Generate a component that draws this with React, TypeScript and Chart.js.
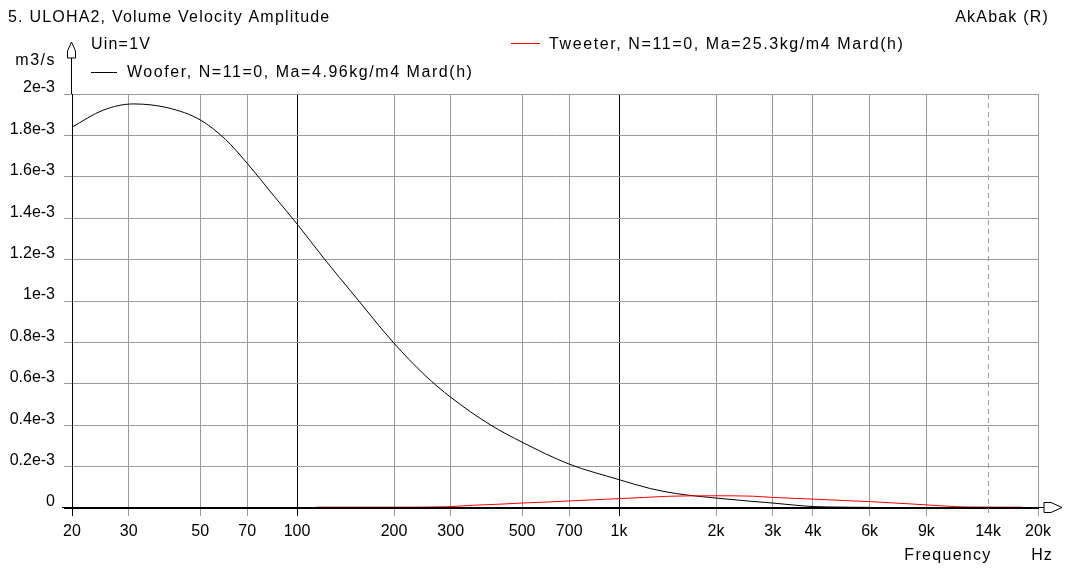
import React, { useEffect, useRef } from "react";
import { Chart, registerables } from "chart.js";

Chart.register(...registerables);

// Frequencies in Hz, volume velocity in units of 1e-3 m3/s
const wooferFreq = [20, 25, 31, 40, 50, 60, 70, 85, 100, 122, 150, 199, 250, 300, 400, 500, 700, 1000, 1250, 1500, 2000, 2500, 3000, 3500, 4000, 5000, 6000];
const wooferVel = [1.84, 1.922, 1.952, 1.932, 1.875, 1.78, 1.665, 1.505, 1.372, 1.2, 1.03, 0.8, 0.64, 0.535, 0.4, 0.318, 0.212, 0.137, 0.094, 0.07, 0.048, 0.034, 0.024, 0.014, 0.007, 0.004, 0.003];

const tweeterFreq = [115, 200, 290, 350, 420, 500, 600, 700, 900, 1200, 1450, 2000, 2600, 3000, 4000, 5000, 6000, 7000, 8000, 9000, 10400, 12000, 17800];
const tweeterVel = [0.004, 0.004, 0.006, 0.013, 0.018, 0.024, 0.029, 0.034, 0.042, 0.051, 0.057, 0.059, 0.057, 0.051, 0.043, 0.036, 0.031, 0.025, 0.02, 0.015, 0.009, 0.005, 0.004];

const xTickValues = [20, 30, 50, 70, 100, 200, 300, 500, 700, 1000, 2000, 3000, 4000, 6000, 9000, 14000, 20000];
const xTickLabels = ["20", "30", "50", "70", "100", "200", "300", "500", "700", "1k", "2k", "3k", "4k", "6k", "9k", "14k", "20k"];
const xDarkLines = [20, 100, 1000];
const xDashedLines = [14000];

const yTickValues = [0, 0.2, 0.4, 0.6, 0.8, 1.0, 1.2, 1.4, 1.6, 1.8, 2.0];
const yTickLabels = ["0", "0.2e-3", "0.4e-3", "0.6e-3", "0.8e-3", "1e-3", "1.2e-3", "1.4e-3", "1.6e-3", "1.8e-3", "2e-3"];

const titleText = "5. ULOHA2, Volume Velocity Amplitude";
const brandText = "AkAbak (R)";
const inputText = "Uin=1V";
const yUnitText = "m3/s";
const xNameText = "Frequency";
const xUnitText = "Hz";
const wooferLabel = "Woofer, N=11=0, Ma=4.96kg/m4 Mard(h)";
const tweeterLabel = "Tweeter, N=11=0, Ma=25.3kg/m4 Mard(h)";

const FAMILY = '"Liberation Sans", Arial, sans-serif';
const FONT_SIZE = 16;
const GRID = "#9a9a9a";

function drawText(ctx: any, text: string, x: number, y: number, align: string, spacing: number) {
  ctx.letterSpacing = `${spacing}px`;
  const w = ctx.measureText(text).width;
  let left = x;
  if (align === "right") left = x - w;
  else if (align === "center") left = x - w / 2;
  ctx.textAlign = "left";
  ctx.fillText(text, left, y);
  ctx.letterSpacing = "0px";
}

const decorPlugin = {
  id: "decor",
  afterDraw(chart: any) {
    const ctx = chart.ctx;
    const area = chart.chartArea;
    const xs = chart.scales.x;
    ctx.save();
    // dashed grid line(s)
    ctx.strokeStyle = GRID;
    ctx.lineWidth = 1;
    ctx.setLineDash([5, 4]);
    xDashedLines.forEach((v) => {
      const px = Math.round(xs.getPixelForValue(v)) + 0.5;
      ctx.beginPath();
      ctx.moveTo(px, area.top);
      ctx.lineTo(px, area.bottom + 8);
      ctx.stroke();
    });
    ctx.setLineDash([]);

    // axis extensions and arrows
    ctx.strokeStyle = "#000";
    const ax = Math.round(area.left) - 0.5;
    const ay = Math.round(area.bottom) - 0.5;
    ctx.beginPath();
    ctx.moveTo(ax, area.top);
    ctx.lineTo(ax, 58);
    ctx.moveTo(62, ay);
    ctx.lineTo(1044, ay);
    ctx.stroke();
    ctx.fillStyle = "#fff";
    // y arrow
    ctx.beginPath();
    ctx.moveTo(ax - 4, 58);
    ctx.lineTo(ax - 4, 51);
    ctx.lineTo(ax, 42);
    ctx.lineTo(ax + 4, 51);
    ctx.lineTo(ax + 4, 58);
    ctx.closePath();
    ctx.fill();
    ctx.stroke();
    // x arrow
    ctx.beginPath();
    ctx.moveTo(1044, ay - 5);
    ctx.lineTo(1051, ay - 5);
    ctx.lineTo(1062, ay);
    ctx.lineTo(1051, ay + 5);
    ctx.lineTo(1044, ay + 5);
    ctx.closePath();
    ctx.fill();
    ctx.stroke();

    // texts
    ctx.fillStyle = "#000";
    ctx.font = `${FONT_SIZE}px ${FAMILY}`;
    ctx.textBaseline = "middle";
    drawText(ctx, titleText, 8, 18, "left", 1.2);
    drawText(ctx, inputText, 91, 45, "left", 1.2);
    drawText(ctx, wooferLabel, 127, 73, "left", 1.55);
    drawText(ctx, tweeterLabel, 549, 45, "left", 1.6);
    drawText(ctx, brandText, 1049, 18, "right", 1.2);
    drawText(ctx, yUnitText, 56, 61, "right", 1.5);
    drawText(ctx, xNameText, 948, 556, "center", 1.3);
    drawText(ctx, xUnitText, 1042, 556, "center", 1);

    // legend lines
    ctx.fillStyle = "#000";
    ctx.fillRect(91, 72, 26, 1);
    ctx.fillStyle = "#ff0000";
    ctx.fillRect(511, 43, 29, 1);
    ctx.restore();
  },
};

export default function App() {
  const canvasRef = useRef<HTMLCanvasElement | null>(null);

  useEffect(() => {
    if (!canvasRef.current) return;
    const chart = new Chart(canvasRef.current, {
      type: "line",
      data: {
        datasets: [
          {
            label: "Tweeter",
            data: tweeterFreq.map((f, i) => ({ x: f, y: tweeterVel[i] })),
            borderColor: "#ff0000",
            borderWidth: 1,
            pointRadius: 0,
            cubicInterpolationMode: "monotone",
            order: 0,
          },
          {
            label: "Woofer",
            data: wooferFreq.map((f, i) => ({ x: f, y: wooferVel[i] })),
            borderColor: "#000000",
            borderWidth: 1,
            pointRadius: 0,
            cubicInterpolationMode: "monotone",
            order: 1,
          },
        ],
      },
      options: {
        animation: false,
        responsive: false,
        layout: { padding: { top: 94, right: 31, left: 0, bottom: 0 } },
        plugins: {
          legend: { display: false },
          title: { display: false },
          tooltip: { enabled: false },
        },
        scales: {
          x: {
            type: "logarithmic",
            min: 20,
            max: 20000,
            afterBuildTicks: (s: any) => {
              s.ticks = xTickValues.map((v) => ({ value: v }));
            },
            afterFit: (s: any) => {
              s.height = 61;
            },
            ticks: {
              autoSkip: false,
              maxRotation: 0,
              minRotation: 0,
              padding: 6,
              color: "#000",
              font: { family: FAMILY, size: FONT_SIZE },
              callback: (_v: any, i: number) => xTickLabels[i],
            },
            grid: {
              lineWidth: 1,
              tickLength: 8,
              color: (c: any) => {
                const v = c.tick && c.tick.value;
                if (xDashedLines.includes(v)) return "rgba(0,0,0,0)";
                if (xDarkLines.includes(v)) return "#000";
                return GRID;
              },
              tickColor: (c: any) => {
                const v = c.tick && c.tick.value;
                if (xDashedLines.includes(v)) return "rgba(0,0,0,0)";
                if (xDarkLines.includes(v)) return "#000";
                return GRID;
              },
            },
            border: { color: "#000", width: 1 },
          },
          y: {
            type: "linear",
            min: 0,
            max: 2,
            afterBuildTicks: (s: any) => {
              s.ticks = yTickValues.map((v) => ({ value: v }));
            },
            afterFit: (s: any) => {
              s.width = 72;
            },
            ticks: {
              autoSkip: false,
              padding: 9,
              labelOffset: -6,
              color: "#000",
              font: { family: FAMILY, size: FONT_SIZE },
              callback: (_v: any, i: number) => yTickLabels[i],
            },
            grid: {
              lineWidth: 1,
              tickLength: 8,
              color: (c: any) => (c.tick && c.tick.value === 0 ? "#000" : GRID),
              tickColor: (c: any) => (c.tick && c.tick.value === 0 ? "#000" : GRID),
            },
            border: { color: "#000", width: 1 },
          },
        },
      },
      plugins: [decorPlugin],
    } as any);
    return () => chart.destroy();
  }, []);

  return (
    <div style={{ position: "absolute", left: 0, top: 0, width: 1069, height: 569, background: "#fff" }}>
      <canvas ref={canvasRef} width={1069} height={569} style={{ display: "block" }} />
    </div>
  );
}
